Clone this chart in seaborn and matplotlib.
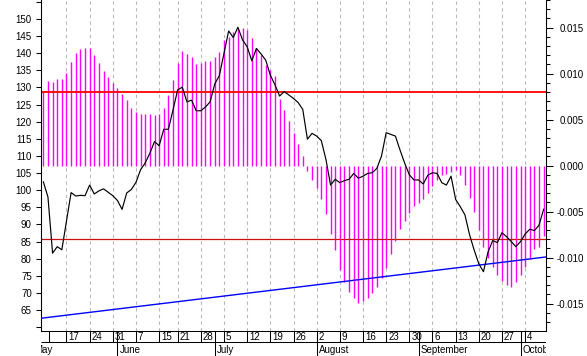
import numpy as np
import pandas as pd
import matplotlib
matplotlib.use("Agg")
import matplotlib.pyplot as plt
import matplotlib.transforms as mtrans
import seaborn as sns

# ---------------- data ----------------
price = [102.5, 98.0, 81.6, 83.5, 82.6, 91.0, 99.3, 98.3, 98.5, 98.4,
         101.5, 98.9, 99.8, 100.4, 99.4, 98.4, 97.0, 94.4, 99.2, 100.2,
         102.3, 106.0, 108.0, 110.8, 114.2, 113.0, 117.8, 117.8, 123.5, 129.3,
         130.1, 125.8, 126.3, 123.2, 123.2, 124.3, 125.8, 131.0, 133.5, 140.0,
         146.5, 144.6, 147.6, 143.9, 141.9, 137.8, 141.4, 139.8, 138.0, 133.6,
         130.8, 127.5, 128.8, 127.8, 126.8, 125.6, 123.6, 114.9, 116.6, 115.8,
         114.5, 109.0, 101.5, 103.2, 102.2, 102.8, 103.2, 104.9, 103.5, 104.1,
         104.9, 105.1, 106.4, 110.0, 116.8, 116.3, 115.8, 111.7, 107.9, 104.5,
         103.0, 103.0, 101.8, 104.4, 105.1, 104.9, 102.2, 101.5, 104.1, 97.3,
         95.2, 92.8, 87.0, 82.5, 78.5, 76.2, 82.0, 85.3, 84.7, 87.6,
         86.4, 85.0, 83.5, 85.0, 87.2, 88.6, 88.2, 89.8, 94.5]

momentum = [0.00800, 0.00924, 0.00913, 0.00946, 0.00946, 0.01010, 0.01130, 0.01220, 0.01270, 0.01280,
            0.01280, 0.01200, 0.01120, 0.01030, 0.00967, 0.00899, 0.00848, 0.00783, 0.00717, 0.00630,
            0.00587, 0.00565, 0.00565, 0.00565, 0.00554, 0.00565, 0.00630, 0.00768, 0.00935, 0.01110,
            0.01250, 0.01210, 0.01185, 0.01100, 0.01120, 0.01140, 0.01140, 0.01185, 0.01240, 0.01370,
            0.01400, 0.01450, 0.01480, 0.01500, 0.01475, 0.01390, 0.01280, 0.01200, 0.01090, 0.01040,
            0.00970, 0.00725, 0.00605, 0.00490, 0.00360, 0.00240, 0.00110, -0.00058, -0.00155, -0.00246,
            -0.00365, -0.00530, -0.00740, -0.00920, -0.01130, -0.01260, -0.01370, -0.01440, -0.01490, -0.01470,
            -0.01440, -0.01380, -0.01315, -0.01220, -0.01110, -0.00960, -0.00815, -0.00690, -0.00600, -0.00520,
            -0.00440, -0.00410, -0.00360, -0.00300, -0.00220, -0.00160, -0.00100, -0.00090, -0.00065, -0.00050,
            -0.00100, -0.00210, -0.00350, -0.00500, -0.00700, -0.00880, -0.01000, -0.01100, -0.01190, -0.01250,
            -0.01300, -0.01320, -0.01260, -0.01190, -0.01100, -0.01010, -0.00910, -0.00880, -0.00760]

band_upper = 0.008
band_lower = -0.008
trend_start = 62.6
trend_end = 80.5

week_pos = [1.2, 5, 10, 15, 20, 25, 29, 34, 39, 44, 49, 54, 59, 64, 69, 74, 79,
            84, 89, 94, 99, 104]
week_labels = ["", "17", "24", "31", "7", "15", "21", "28", "5", "12", "19", "26",
               "2", "9", "16", "23", "30", "6", "13", "20", "27", "4"]
month_pos = [-2.3, 16, 37, 59, 81, 103]
month_labels = ["May", "June", "July", "August", "September", "October"]

price_ticks = list(range(60, 156, 5))
mom_ticks = [-0.015, -0.010, -0.005, 0.0, 0.005, 0.010, 0.015]

# ---------------- style ----------------
sns.set_theme(style="white")
plt.rcParams['font.family'] = ['Liberation Sans', 'DejaVu Sans']
plt.rcParams['axes.unicode_minus'] = False

W, H = 587, 356
L, R, T, B = 41, 546, 0, 331
fig = plt.figure(figsize=(W / 100, H / 100), dpi=100)
fig.patch.set_facecolor("white")

ax = fig.add_axes([L / W, (H - B) / H, (R - L) / W, (B - T) / H])
axp = ax.twinx()

idx = np.arange(len(price))
xmin, xmax = -0.5, len(price) - 0.5

# weekly dashed grid
for p, lab in zip(week_pos, week_labels):
    if lab:
        ax.axvline(p, color="#b8b8b8", lw=0.8, ls=(0, (3, 3)), zorder=0)

# momentum bars (right scale)
ax.vlines(idx, 0, momentum, color="#ff00ff", lw=1.0, zorder=2)
ax.axhline(band_upper, color="#ff0000", lw=1.3, zorder=3)
ax.axhline(band_lower, color="#cc1010", lw=0.9, zorder=3)

# price & trend (left scale)
df = pd.DataFrame({"idx": idx, "price": price})
sns.lineplot(data=df, x="idx", y="price", ax=axp, color="black", lw=0.85, zorder=5)
trend = pd.DataFrame({"idx": [xmin, xmax], "val": [trend_start, trend_end]})
sns.lineplot(data=trend, x="idx", y="val", ax=axp, color="#0000ff", lw=1.0, zorder=4)

ax.set_xlim(xmin, xmax)
ax.set_ylim(-0.01797, 0.0180)
axp.set_ylim(58.88, 155.55)
axp.set_xlabel("")
axp.set_ylabel("")
ax.set_xlabel("")
ax.set_ylabel("")

# left axis (price)
axp.yaxis.tick_left()
axp.set_yticks(price_ticks)
axp.set_yticklabels(["" if v in (60, 155) else str(v) for v in price_ticks])
axp.tick_params(axis="y", which="major", length=3.6, width=0.75, pad=3,
                labelsize=7, direction="out", colors="black", left=True, right=False)
axp.tick_params(axis="x", bottom=False, labelbottom=False)

# right axis (momentum)
ax.yaxis.tick_right()
ax.set_yticks(mom_ticks)
ax.set_yticklabels([f"{v:.3f}" for v in mom_ticks])
ax.set_yticks(np.arange(-0.017, 0.0181, 0.001), minor=True)
ax.tick_params(axis="y", which="major", length=5, width=0.75, pad=22,
               labelsize=7, direction="out", colors="black", right=True, left=False)
ax.tick_params(axis="y", which="minor", length=3, width=0.75, direction="out",
               colors="black", right=True, left=False)
for lab in ax.get_yticklabels():
    lab.set_horizontalalignment("right")
ax.tick_params(axis="x", bottom=False, labelbottom=False)

for s in ["top"]:
    ax.spines[s].set_visible(False)
    axp.spines[s].set_visible(False)
for a in (ax, axp):
    for s in ["left", "right", "bottom"]:
        a.spines[s].set_color("black")
        a.spines[s].set_linewidth(0.75)
axp.spines["bottom"].set_visible(False)
ax.grid(False)
axp.grid(False)

# ---------------- date strip ----------------
axd = fig.add_axes([L / W, 0, (R - L) / W, (H - B) / H])
axd.set_xlim(xmin, xmax)
axd.set_ylim(0, H - B)
axd.axis("off")
row_y = H - 342
axd.hlines(row_y, xmin, xmax, color="black", lw=0.75)
axd.vlines(week_pos, row_y, H - B, color="black", lw=0.75)
axd.vlines(month_pos, 0, H - B, color="black", lw=0.75)
off = mtrans.offset_copy(axd.transData, fig=fig, x=2, y=0, units="dots")
for p, lab in zip(week_pos, week_labels):
    t = axd.text(p, 18.6, lab, transform=off, ha="left", va="center", fontsize=7,
                 color="black", clip_on=True)
    t.set_clip_box(axd.bbox)
for p, lab in zip(month_pos, month_labels):
    t = axd.text(p, 6.0, lab, transform=off, ha="left", va="center", fontsize=7,
                 color="black", clip_on=True)
    t.set_clip_box(axd.bbox)

fig.savefig("out.png", dpi=100)
